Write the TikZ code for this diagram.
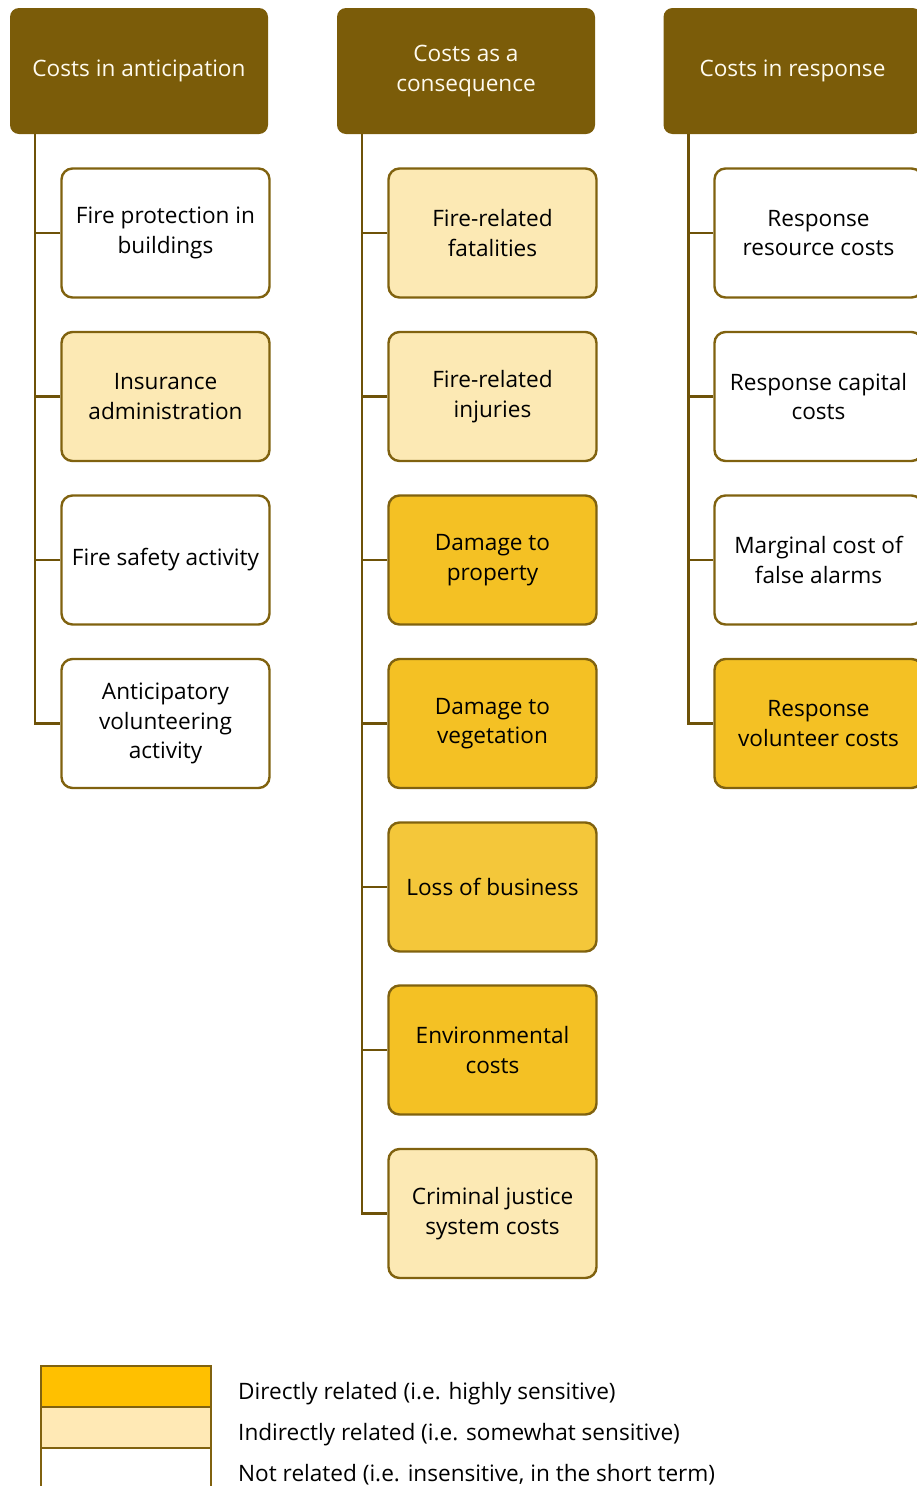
\documentclass[tikz,border=0pt]{standalone}
\usepackage{fontspec}
\setmainfont{Open Sans}
\definecolor{hdrc}{HTML}{7B5C09}
\definecolor{bord}{HTML}{80620F}
\definecolor{linec}{HTML}{6E5208}
\definecolor{darkf}{HTML}{F4C124}
\definecolor{lossf}{HTML}{F4C73A}
\definecolor{lightf}{HTML}{FCE9B4}
\definecolor{legdark}{HTML}{FFC000}
\definecolor{leglight}{HTML}{FFE9B5}
\definecolor{hdrtext}{HTML}{FFFBEF}
\begin{document}
\begin{tikzpicture}[x=1pt,y=-1pt,
  hdr/.style={rounded corners=9pt, fill=hdrc, minimum width=258pt, minimum height=126pt,
    text=hdrtext, align=center, inner sep=0pt, font=\fontsize{22.6}{29.5}\selectfont},
  item/.style={draw=bord, line width=2.4pt, rounded corners=11pt, minimum width=208pt,
    minimum height=129pt, align=center, inner sep=0pt, text=black, font=\fontsize{22.6}{29.5}\selectfont},
  wht/.style={item, fill=white},
  lgt/.style={item, fill=lightf},
  drk/.style={item, fill=darkf},
  conn/.style={draw=linec, line width=2.6pt},
  legbox/.style={draw=bord, line width=2pt, minimum width=170pt, minimum height=41pt, inner sep=0pt},
  legtxt/.style={anchor=west, inner sep=0pt, font=\fontsize{22.6}{26}\selectfont, text=black}
]
\useasboundingbox (0,0) rectangle (917,1486);
\clip (0,0) rectangle (917,1486);

% headers
\node[hdr] (hA) at (139,71) {Costs in anticipation};
\node[hdr] (hB) at (466,71) {Costs as a\\consequence};
\node[hdr] (hC) at (792.5,71) {Costs in response};

% column A
\node[wht] (a1) at (165.5,233) {Fire protection in\\buildings};
\node[lgt] (a2) at (165.5,396.5) {Insurance\\administration};
\node[wht] (a3) at (165.5,560) {Fire safety activity};
\node[wht] (a4) at (165.5,723.5) {Anticipatory\\volunteering\\activity};

% column B
\node[lgt] (b1) at (492.5,233) {Fire-related\\fatalities};
\node[lgt] (b2) at (492.5,396.5) {Fire-related\\injuries};
\node[drk] (b3) at (492.5,560) {Damage to\\property};
\node[drk] (b4) at (492.5,723.5) {Damage to\\vegetation};
\node[item, fill=lossf] (b5) at (492.5,887) {Loss of business};
\node[drk] (b6) at (492.5,1050) {Environmental\\costs};
\node[lgt] (b7) at (492.5,1213.5) {Criminal justice\\system costs};

% column C
\node[wht] (c1) at (818.5,233) {Response\\resource costs};
\node[wht] (c2) at (818.5,396.5) {Response capital\\costs};
\node[wht] (c3) at (818.5,560) {Marginal cost of\\false alarms};
\node[drk] (c4) at (818.5,723.5) {Response\\volunteer costs};

% connectors
\coordinate (tA) at ([xshift=25pt]hA.south west);
\coordinate (tB) at ([xshift=25pt]hB.south west);
\coordinate (tC) at ([xshift=25pt]hC.south west);
\draw[conn] (tA) |- (a4.west);
\foreach \n in {a1,a2,a3} \draw[conn] (\n.west) -- (tA |- \n.west);
\draw[conn] (tB) |- (b7.west);
\foreach \n in {b1,b2,b3,b4,b5,b6} \draw[conn] (\n.west) -- (tB |- \n.west);
\draw[conn] (tC) |- (c4.west);
\foreach \n in {c1,c2,c3} \draw[conn] (\n.west) -- (tC |- \n.west);

% legend
\node[legbox, fill=legdark] (l1) at (125.5,1386) {};
\node[legbox, fill=leglight] (l2) at (125.5,1427) {};
\node[legbox, fill=white, minimum height=50pt] (l3) at (125.5,1472.5) {};
\node[legtxt] (t1) at (238,1394) {Directly related (i.e. highly sensitive)};
\node[legtxt] (t2) at (238,1435) {Indirectly related (i.e. somewhat sensitive)};
\node[legtxt] (t3) at (238,1475) {Not related (i.e. insensitive, in the short term)};
\end{tikzpicture}
\end{document}
